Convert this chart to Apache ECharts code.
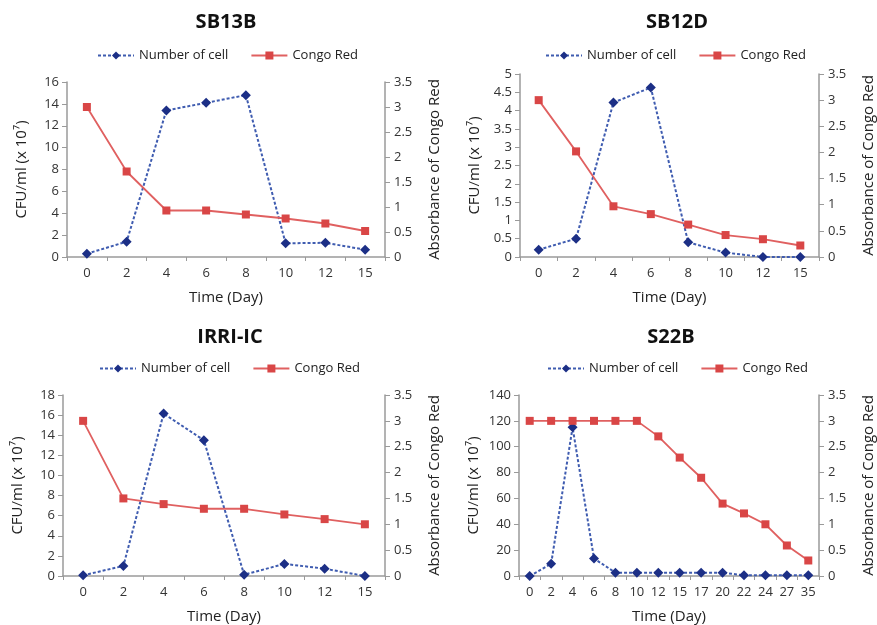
<!DOCTYPE html>
<html><head><meta charset="utf-8">
<script src="https://cdn.jsdelivr.net/npm/echarts@6/dist/echarts.min.js"></script>
<style>html,body{margin:0;padding:0;background:#fff}#c{width:877px;height:625px}</style>
</head><body><div id="c"></div>
<script>
const titles = ["SB13B", "SB12D", "IRRI-IC", "S22B"];
const days15 = ["0","2","4","6","8","10","12","15"];
const days35 = ["0","2","4","6","8","10","12","15","17","20","22","24","27","35"];
const cellsSB13B = [0.3, 1.4, 13.4, 14.1, 14.8, 1.25, 1.3, 0.67];
const congoSB13B = [3.0, 1.71, 0.93, 0.93, 0.85, 0.77, 0.67, 0.52];
const cellsSB12D = [0.2, 0.5, 4.22, 4.63, 0.4, 0.12, 0, 0];
const congoSB12D = [3.0, 2.02, 0.97, 0.82, 0.62, 0.42, 0.34, 0.22];
const cellsIRRI = [0.07, 1.0, 16.15, 13.5, 0.13, 1.2, 0.73, 0];
const congoIRRI = [3.0, 1.5, 1.39, 1.3, 1.3, 1.19, 1.1, 1.0];
const cellsS22B = [0, 9.5, 115, 13.5, 2.6, 2.6, 2.6, 2.6, 2.6, 2.6, 0.5, 0.5, 0.5, 0.5];
const congoS22B = [3.0, 3.0, 3.0, 3.0, 3.0, 3.0, 2.7, 2.29, 1.9, 1.4, 1.21, 1.0, 0.59, 0.3];
const leftMax = [16, 5, 18, 140];
const leftInterval = [2, 0.5, 2, 20];
const rightTicks = ["0","0.5","1","1.5","2","2.5","3","3.5"];

const cats = [days15, days15, days15, days35];
const cells = [cellsSB13B, cellsSB12D, cellsIRRI, cellsS22B];
const congo = [congoSB13B, congoSB12D, congoIRRI, congoS22B];

const FONT = "'Open Sans', 'DejaVu Sans', sans-serif";
const grids = [
  {left: 67, top: 82, width: 318, height: 175},
  {left: 520, top: 74, width: 302, height: 183},
  {left: 63, top: 395, width: 322, height: 182},
  {left: 519, top: 395, width: 303, height: 181}
];
const titlePos = [[221, 7], [672, 7], [225, 322], [666, 322]];
const legendLeft = [[92, 44], [540, 44], [94, 357], [542, 357]];
const yName = "CFU/ml (x 10⁷)";
const axisLineC = '#9a9a9a';
const labelC = '#333';

const option = {
  animation: false,
  backgroundColor: '#fff',
  title: [], legend: [], grid: [], xAxis: [], yAxis: [], series: []
};
for (let i = 0; i < 4; i++) {
  option.title.push({
    text: titles[i], left: titlePos[i][0], top: titlePos[i][1], textAlign: 'center',
    textStyle: {fontFamily: FONT, fontSize: 20, fontWeight: 'bold', color: '#111'}
  });
  option.legend.push({
    data: ['Number of cell' + ' '.repeat(i), 'Congo Red' + ' '.repeat(i)],
    left: legendLeft[i][0], top: legendLeft[i][1],
    itemWidth: 36, itemHeight: 10, itemGap: 22,
    textStyle: {fontFamily: FONT, fontSize: 13, color: '#222'},
    formatter: n => n.trim()
  });
  option.grid.push(Object.assign({containLabel: false}, grids[i]));
  option.xAxis.push({
    type: 'category', gridIndex: i, data: cats[i], boundaryGap: true,
    name: 'Time (Day)', nameLocation: 'middle', nameGap: 33,
    nameTextStyle: {fontFamily: FONT, fontSize: 15, color: '#222'},
    axisLine: {lineStyle: {color: axisLineC, width: 1.5}},
    axisTick: {show: true, alignWithLabel: false, length: 4, inside: false, lineStyle: {color: axisLineC}},
    axisLabel: {fontFamily: FONT, fontSize: 13, color: labelC, margin: 10, interval: 0},
    splitLine: {show: false}
  });
  option.yAxis.push({
    type: 'value', gridIndex: i, position: 'left', min: 0, max: leftMax[i], interval: leftInterval[i],
    name: yName, nameLocation: 'middle', nameGap: 38,
    nameTextStyle: {fontFamily: FONT, fontSize: 15, color: '#222'},
    axisLine: {show: true, lineStyle: {color: axisLineC, width: 1.5}},
    axisTick: {show: true, length: 5, lineStyle: {color: axisLineC}},
    axisLabel: {fontFamily: FONT, fontSize: 13, color: labelC, margin: 8},
    splitLine: {show: false}
  });
  option.yAxis.push({
    type: 'value', gridIndex: i, position: 'right', min: 0, max: 3.5, interval: 0.5,
    name: 'Absorbance of Congo Red', nameLocation: 'middle', nameGap: 42,
    nameTextStyle: {fontFamily: FONT, fontSize: 15, color: '#222'},
    axisLine: {show: true, lineStyle: {color: axisLineC, width: 1.5}},
    axisTick: {show: true, length: 5, lineStyle: {color: axisLineC}},
    axisLabel: {fontFamily: FONT, fontSize: 13, color: labelC, margin: 9,
      formatter: v => rightTicks[Math.round(v * 2)]},
    splitLine: {show: false}
  });
  option.series.push({
    name: 'Number of cell' + ' '.repeat(i), type: 'line', xAxisIndex: i, yAxisIndex: 2 * i,
    data: cells[i], symbol: 'diamond', symbolSize: 10,
    lineStyle: {color: '#3f5cb0', width: 2, type: [3, 2]},
    itemStyle: {color: '#1c2f86'}
  });
  option.series.push({
    name: 'Congo Red' + ' '.repeat(i), type: 'line', xAxisIndex: i, yAxisIndex: 2 * i + 1,
    data: congo[i], symbol: 'rect', symbolSize: 8,
    lineStyle: {color: '#e06060', width: 1.8},
    itemStyle: {color: '#d94646'}
  });
}
echarts.init(document.getElementById('c'), null, {renderer: 'canvas'}).setOption(option);
</script>
</body></html>
